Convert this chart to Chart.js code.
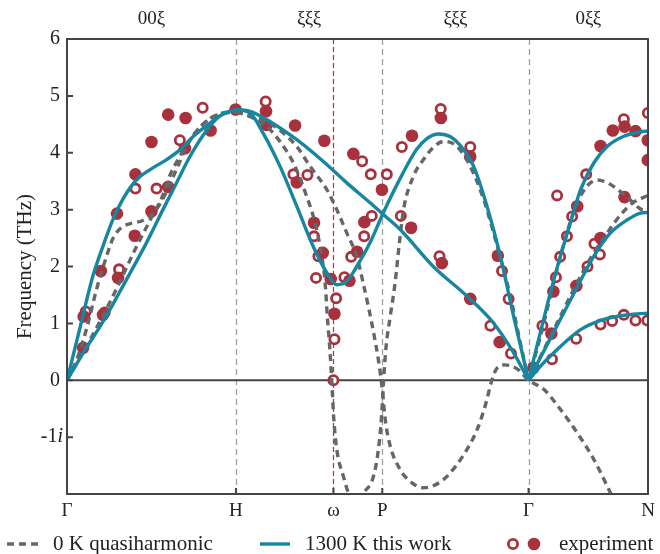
<!DOCTYPE html>
<html>
<head>
<meta charset="utf-8">
<script src="https://cdn.jsdelivr.net/npm/chart.js@4.4.0/dist/chart.umd.min.js"></script>
<style>
  html, body { margin: 0; padding: 0; background: #fff; }
  canvas { display: block; }
</style>
</head>
<body>
<canvas id="disp" width="660" height="554" style="width:660px;height:554px"></canvas>
<script>
// Path along the BCC zone: Γ–H [00ξ], H–P [ξξξ], P–Γ [ξξξ], Γ–N [0ξξ]
const pathPos    = [0, 1, 1.577, 1.866, 2.732, 3.439];
const pathLabels = ['Γ', 'H', 'ω', 'P', 'Γ', 'N'];
const dirLabels  = ['00ξ', 'ξξξ', 'ξξξ', '0ξξ'];
const dirSpans   = [[0, 1], [1, 3], [3, 4], [4, 5]];   // indices into pathPos
const yTicks     = [6, 5, 4, 3, 2, 1, 0, -1];

// 0 K quasiharmonic branches (negative values stand for imaginary frequencies)
const qhaGH_T = [[0,0],[0.1,0.52],[0.2,1.06],[0.3,1.65],[0.4,2.28],[0.5,2.86],[0.56,3.2],[0.609,3.6],[0.687,4.03],[0.767,4.38],[0.846,4.6],[0.923,4.7],[1,4.72]];
const qhaGH_L = [[0,0],[0.06,0.38],[0.12,0.95],[0.174,1.59],[0.234,2.18],[0.273,2.5],[0.32,2.68],[0.37,2.75],[0.449,2.81],[0.508,2.93],[0.56,3.15],[0.65,3.72],[0.71,4.12],[0.787,4.45],[0.887,4.66],[1,4.72]];
const qhaA = [[1,4.72],[1.08,4.65],[1.17,4.56],[1.241,4.44],[1.36,4.11],[1.439,3.76],[1.538,3.35],[1.597,3.0],[1.656,2.59],[1.715,2.18],[1.75,1.75],[1.785,1.28],[1.814,0.85],[1.843,0.36],[1.866,-0.15],[1.882,-0.65],[1.91,-1.12],[1.972,-1.57],[2.04,-1.8],[2.11,-1.89],[2.18,-1.84],[2.249,-1.69],[2.35,-1.3],[2.43,-0.85],[2.48,-0.4],[2.51,-0.05],[2.54,0.19],[2.59,0.27],[2.664,0.2],[2.732,0],[2.822,-0.16],[2.92,-0.51],[3.019,-0.92],[3.118,-1.39],[3.207,-1.92],[3.3,-2.5],[3.439,-3.3]];
const qhaB = [[1,4.72],[1.08,4.64],[1.182,4.46],[1.26,4.2],[1.34,3.82],[1.419,3.23],[1.468,2.77],[1.508,2.18],[1.528,1.71],[1.541,1.12],[1.556,0.54],[1.568,-0.05],[1.578,-0.63],[1.597,-1.22],[1.636,-1.69],[1.666,-1.98],[1.71,-2.15],[1.755,-1.98],[1.814,-1.69],[1.843,-1.22],[1.862,-0.63],[1.873,-0.05],[1.887,0.54],[1.913,1.12],[1.942,1.71],[1.965,2.35],[1.992,3.0],[2.051,3.59],[2.11,3.88],[2.17,4.1],[2.229,4.2],[2.308,4.11],[2.387,3.76],[2.466,3.18],[2.525,2.59],[2.57,2.1],[2.624,1.48],[2.683,0.66],[2.732,0]];
const qhaGN_1 = [[2.732,0],[2.8,0.75],[2.88,1.7],[2.96,2.6],[3.02,3.12],[3.08,3.42],[3.138,3.52],[3.2,3.47],[3.27,3.33],[3.33,3.18],[3.39,3.02],[3.439,2.95]];
const qhaGN_2 = [[2.732,0],[2.8,0.4],[2.9,1.0],[3.0,1.6],[3.1,2.15],[3.2,2.6],[3.28,2.92],[3.35,3.12],[3.439,3.25]];

// 1300 K renormalized branches
const hotGH_1 = [[0,0],[0.08,0.96],[0.152,1.82],[0.212,2.35],[0.271,2.82],[0.33,3.18],[0.413,3.53],[0.49,3.7],[0.59,3.88],[0.668,4.05],[0.745,4.28],[0.846,4.52],[0.923,4.68],[1,4.76]];
const hotGH_2 = [[0,0],[0.1,0.5],[0.213,1.03],[0.352,1.77],[0.471,2.42],[0.568,3.0],[0.648,3.47],[0.727,3.93],[0.804,4.3],[0.886,4.6],[0.966,4.73],[1,4.76]];
const hotHG_1 = [[1,4.76],[1.08,4.73],[1.2,4.55],[1.36,4.23],[1.516,3.85],[1.656,3.47],[1.794,3.12],[1.866,2.93],[1.972,2.65],[2.168,2.0],[2.367,1.48],[2.523,1.01],[2.642,0.49],[2.732,0]];
const hotHG_2 = [[1,4.76],[1.083,4.7],[1.16,4.35],[1.261,3.76],[1.36,3.06],[1.456,2.36],[1.538,1.89],[1.597,1.68],[1.656,1.74],[1.715,2.0],[1.794,2.42],[1.873,2.95],[1.99,3.65],[2.07,4.06],[2.13,4.25],[2.2,4.33],[2.27,4.28],[2.33,4.12],[2.407,3.76],[2.486,3.06],[2.565,2.18],[2.644,1.12],[2.732,0]];
const hotGN_1 = [[2.732,0],[2.79,0.7],[2.851,1.42],[2.92,2.18],[2.98,2.77],[3.04,3.35],[3.118,3.82],[3.197,4.11],[3.296,4.29],[3.395,4.37],[3.439,4.38]];
const hotGN_2 = [[2.732,0],[2.85,0.67],[2.98,1.41],[3.118,2.18],[3.217,2.59],[3.316,2.82],[3.395,2.94],[3.439,2.95]];
const hotGN_3 = [[2.732,0],[2.8,0.24],[2.88,0.48],[3.04,0.89],[3.178,1.07],[3.316,1.15],[3.439,1.18]];

// Inelastic neutron scattering data
const expFilled = [[0.095,0.57],[0.099,1.12],[0.213,1.15],[0.2,1.92],[0.302,1.8],[0.401,2.54],[0.296,2.93],[0.5,2.97],[0.405,3.62],[0.599,3.4],[0.5,4.19],[0.599,4.67],[0.702,4.61],[0.698,4.08],[0.85,4.39],[0.998,4.76],
  [1.178,4.73],[1.182,4.49],[1.35,4.48],[1.523,4.21],[1.36,3.48],[1.462,2.77],[1.514,2.24],[1.561,1.78],[1.672,1.75],[1.583,1.17],[1.695,3.98],[1.864,3.35],[1.76,2.78],[1.717,2.26],
  [2.042,4.3],[2.213,4.61],[2.387,3.93],[2.037,2.68],[2.219,2.06],[2.55,2.19],[2.387,1.43],[2.561,0.67],
  [3.438,4.22],[3.438,3.87],[3.3,4.46],[3.231,4.39],[3.365,4.38],[3.158,4.12],[3.3,3.22],[3.02,3.06],[3.158,2.5],[3.015,1.66],[2.867,0.82],[2.879,1.56],[2.761,0.22]];
const expOpen = [[0.111,1.21],[0.223,1.19],[0.308,1.95],[0.405,3.37],[0.53,3.37],[0.668,4.22],[0.803,4.79],
  [1.176,4.9],[1.34,3.62],[1.423,3.61],[1.462,2.53],[1.488,2.18],[1.474,1.8],[1.642,1.81],[1.682,2.17],[1.593,1.44],[1.583,0.72],[1.577,0],[1.747,3.85],[1.798,3.62],[1.893,3.62],[1.804,2.89],[1.759,2.53],
  [1.982,4.1],[2.212,4.77],[2.387,4.1],[1.976,2.89],[2.205,2.18],[2.575,1.92],[2.506,0.96],[2.628,0.47],[2.614,1.43],
  [3.438,4.7],[3.296,4.59],[3.073,3.62],[2.901,3.25],[2.99,2.88],[2.959,2.53],[3.122,2.4],[3.154,2.21],[2.919,2.17],[3.081,2.0],[2.894,1.81],[2.814,0.96],[2.871,0.37],[3.014,0.73],[3.158,0.98],[3.227,1.04],[3.296,1.15],[3.365,1.05],[3.435,1.05]];

const TEAL = '#1786a0';
const GREY = '#666666';
const RED  = '#a8313d';
const SERIF = "'Liberation Serif', 'Times New Roman', serif";

const pts = arr => arr.map(([x, y]) => ({ x, y }));
const qhaCurve = arr => ({ data: pts(arr), showLine: true, borderColor: GREY, borderWidth: 3.4, borderDash: [7, 5],
  pointRadius: 0, cubicInterpolationMode: 'monotone', fill: false, order: 2 });
const hotCurve = arr => ({ data: pts(arr), showLine: true, borderColor: TEAL, borderWidth: 3.4,
  pointRadius: 0, cubicInterpolationMode: 'monotone', fill: false, order: 1 });

const datasets = [
  { data: pts(expFilled), showLine: false, pointRadius: 6.3, pointBackgroundColor: RED, pointBorderWidth: 0, order: 3 },
  { data: pts(expOpen), showLine: false, pointRadius: 4.6, pointBackgroundColor: '#fff', pointBorderColor: RED, pointBorderWidth: 2.8, order: 3 },
  ...[qhaGH_T, qhaGH_L, qhaA, qhaB, qhaGN_1, qhaGN_2].map(qhaCurve),
  ...[hotGH_1, hotGH_2, hotHG_1, hotHG_2, hotGN_1, hotGN_2, hotGN_3].map(hotCurve)
];

// Guide lines, frame, tick labels and legend
const decor = {
  id: 'decor',
  beforeDatasetsDraw(chart) {
    const { ctx, chartArea: a, scales: { x, y } } = chart;
    ctx.save();
    ctx.lineWidth = 1.3;
    [1, 3, 4].forEach(i => {
      const px = Math.round(x.getPixelForValue(pathPos[i])) + 0.5;
      ctx.strokeStyle = '#a0a0a0';
      ctx.setLineDash([6, 4]);
      ctx.beginPath(); ctx.moveTo(px, a.top); ctx.lineTo(px, a.bottom); ctx.stroke();
    });
    const pw = Math.round(x.getPixelForValue(pathPos[2])) + 0.5;
    ctx.strokeStyle = '#b03a48';
    ctx.setLineDash([5, 3]);
    ctx.beginPath(); ctx.moveTo(pw, a.top); ctx.lineTo(pw, a.bottom); ctx.stroke();
    ctx.setLineDash([]);
    ctx.strokeStyle = '#444';
    ctx.lineWidth = 2;
    const y0 = y.getPixelForValue(0);
    ctx.beginPath(); ctx.moveTo(a.left, y0); ctx.lineTo(a.right, y0); ctx.stroke();
    ctx.restore();
  },
  afterDatasetsDraw(chart) {
    const { ctx, chartArea: a, scales: { x, y } } = chart;
    ctx.save();
    ctx.strokeStyle = '#444';
    ctx.lineWidth = 2;
    ctx.setLineDash([]);
    ctx.strokeRect(a.left, a.top, a.right - a.left, a.bottom - a.top);
    // inward ticks
    ctx.beginPath();
    yTicks.forEach(v => { const py = y.getPixelForValue(v); ctx.moveTo(a.left, py); ctx.lineTo(a.left + 6, py); });
    [1, 2, 3, 4].forEach(i => { const px = x.getPixelForValue(pathPos[i]); ctx.moveTo(px, a.bottom); ctx.lineTo(px, a.bottom - 6); });
    ctx.stroke();

    ctx.fillStyle = '#222';
    ctx.textBaseline = 'middle';
    ctx.font = `20px ${SERIF}`;
    ctx.textAlign = 'right';
    yTicks.forEach(v => {
      const py = y.getPixelForValue(v);
      if (v >= 0) { ctx.fillText(String(v), 60, py); return; }
      ctx.font = `italic 20px ${SERIF}`;
      const wi = ctx.measureText('i').width;
      ctx.fillText('i', 63, py);
      ctx.font = `20px ${SERIF}`;
      ctx.fillText(String(v), 63 - wi, py);
    });
    ctx.textAlign = 'center';
    ctx.font = `19px ${SERIF}`;
    pathLabels.forEach((t, i) => ctx.fillText(t, x.getPixelForValue(pathPos[i]), 511));
    dirLabels.forEach((t, i) => {
      const [s, e] = dirSpans[i];
      ctx.fillText(t, x.getPixelForValue((pathPos[s] + pathPos[e]) / 2), 19);
    });

    ctx.save();
    ctx.translate(25, (a.top + a.bottom) / 2);
    ctx.rotate(-Math.PI / 2);
    ctx.font = `21px ${SERIF}`;
    ctx.fillText('Frequency (THz)', 0, 0);
    ctx.restore();

    // legend
    const ly = 544;
    ctx.font = `21px ${SERIF}`;
    ctx.textAlign = 'left';
    ctx.lineWidth = 3.4;
    ctx.strokeStyle = GREY; ctx.setLineDash([7, 5]);
    ctx.beginPath(); ctx.moveTo(7, ly); ctx.lineTo(40, ly); ctx.stroke();
    ctx.setLineDash([]);
    ctx.fillText('0 K quasiharmonic', 53, ly);
    ctx.strokeStyle = TEAL;
    ctx.beginPath(); ctx.moveTo(260, ly); ctx.lineTo(290, ly); ctx.stroke();
    ctx.fillText('1300 K this work', 305, ly);
    ctx.strokeStyle = RED; ctx.lineWidth = 2.8; ctx.fillStyle = '#fff';
    ctx.beginPath(); ctx.arc(513, ly, 4.6, 0, Math.PI * 2); ctx.fill(); ctx.stroke();
    ctx.fillStyle = RED;
    ctx.beginPath(); ctx.arc(534, ly, 6.3, 0, Math.PI * 2); ctx.fill();
    ctx.fillStyle = '#222';
    ctx.fillText('experiment', 559, ly);
    ctx.restore();
  }
};

new Chart(document.getElementById('disp'), {
  type: 'scatter',
  data: { datasets },
  options: {
    responsive: false,
    animation: false,
    devicePixelRatio: 1,
    layout: { padding: { left: 0, right: 12, top: 39, bottom: 0 } },
    scales: {
      x: { type: 'linear', min: 0, max: pathPos[5], grid: { display: false }, border: { display: false },
           ticks: { display: false }, afterFit: s => { s.height = 60; } },
      y: { type: 'linear', min: -2, max: 6, grid: { display: false }, border: { display: false },
           ticks: { display: false }, afterFit: s => { s.width = 67; } }
    },
    plugins: { legend: { display: false }, tooltip: { enabled: false } }
  },
  plugins: [decor]
});
</script>
</body>
</html>
